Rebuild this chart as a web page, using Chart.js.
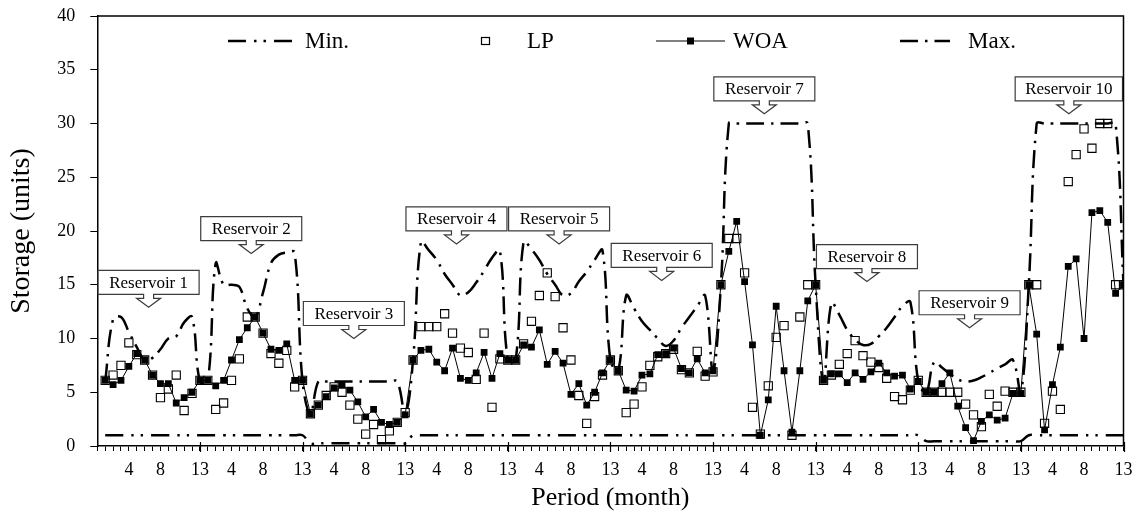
<!DOCTYPE html>
<html>
<head>
<meta charset="utf-8">
<title>Storage by period</title>
<script src="https://cdn.jsdelivr.net/npm/chart.js@4.4.1/dist/chart.umd.min.js"></script>
<style>
  html, body { margin: 0; padding: 0; background: #fff; }
  #wrap { width: 1137px; height: 515px; }
</style>
</head>
<body>
<div id="wrap"><canvas id="chart" width="1137" height="515"></canvas></div>
<script>
// one row per reservoir, 13 monthly periods each
const reservoirNames = ['Reservoir 1', 'Reservoir 2', 'Reservoir 3', 'Reservoir 4', 'Reservoir 5',
  'Reservoir 6', 'Reservoir 7', 'Reservoir 8', 'Reservoir 9', 'Reservoir 10'];
const periodsPerReservoir = 13;
const labelledPeriods = [4, 8, 13];

const woaStorage = [
  [6.1, 5.7, 6.1, 7.4, 8.6, 8.0, 6.6, 5.8, 5.8, 4.0, 4.5, 5.0, 6.1],
  [6.1, 5.6, 6.1, 8.0, 9.9, 11.0, 12.0, 10.5, 9.0, 8.9, 9.5, 6.1, 6.1],
  [3.0, 3.8, 4.6, 5.4, 5.7, 5.2, 4.1, 2.7, 3.4, 2.2, 2.0, 2.2, 2.9],
  [8.0, 8.9, 9.0, 7.8, 7.0, 9.1, 6.3, 6.1, 6.8, 8.7, 6.3, 8.6, 8.0],
  [8.0, 9.4, 9.2, 10.8, 7.6, 8.8, 7.7, 4.8, 5.8, 3.8, 5.0, 6.8, 8.0],
  [7.0, 5.2, 5.1, 6.6, 6.7, 8.5, 8.6, 9.1, 7.2, 6.8, 8.1, 6.8, 7.0],
  [15.0, 18.1, 20.9, 15.3, 9.4, 1.0, 4.3, 13.0, 7.0, 1.3, 7.0, 13.5, 15.0],
  [6.1, 6.7, 6.7, 5.9, 6.8, 6.2, 6.9, 7.7, 6.8, 6.5, 6.6, 5.3, 6.0],
  [5.0, 5.0, 5.8, 6.8, 3.7, 1.7, 0.5, 2.3, 2.9, 2.4, 2.6, 4.9, 4.9],
  [15.0, 10.4, 1.5, 5.7, 9.2, 16.7, 17.4, 10.0, 21.7, 21.9, 20.8, 14.2, 15.0]
];

const lpStorage = [
  [6.1, 6.6, 7.5, 9.6, 8.5, 8.0, 6.6, 4.5, 5.3, 6.6, 3.3, 4.9, 6.1],
  [6.1, 3.4, 4.0, 6.1, 8.1, 12.0, 12.0, 10.5, 8.6, 7.7, 8.9, 5.5, 6.1],
  [3.0, 3.8, 4.7, 5.5, 5.0, 3.8, 2.5, 1.1, 2.0, 0.6, 1.4, 2.2, 3.1],
  [8.0, 11.1, 11.1, 11.1, 12.3, 10.5, 9.1, 8.7, 6.2, 10.5, 3.6, 8.1, 8.0],
  [8.0, 9.5, 11.6, 14.0, 16.1, 13.9, 11.0, 8.0, 4.7, 2.1, 4.6, 6.6, 8.0],
  [7.0, 3.1, 3.9, 5.5, 7.5, 8.3, 8.6, 9.0, 7.1, 6.8, 8.8, 6.5, 6.9],
  [15.0, 19.3, 19.3, 16.1, 3.6, 1.1, 5.6, 10.1, 11.2, 1.0, 12.0, 15.0, 15.0],
  [6.1, 6.6, 7.6, 8.6, 9.8, 8.4, 7.8, 7.3, 6.3, 4.6, 4.3, 5.2, 6.1],
  [5.0, 5.0, 5.0, 5.0, 5.0, 3.9, 2.9, 1.8, 4.8, 3.7, 5.1, 5.0, 5.0],
  [15.0, 15.0, 2.1, 5.1, 3.4, 24.6, 27.1, 29.5, 27.7, 30.0, 30.0, 15.0, 15.0]
];

const maxStorage = [
  [6, 11.8, 12.0, 10.6, 9.2, 8.0, 8.2, 9.0, 10.0, 10.2, 11.5, 12.0, 6],
  [6, 17.0, 15.0, 15.0, 14.8, 12.8, 12.0, 14.3, 17.0, 17.8, 18.0, 18.0, 6],
  [3, 6, 6, 6, 6, 6, 6, 6, 6, 6, 6, 6, 3],
  [8, 19.0, 18.2, 17.3, 16.0, 15.0, 14.0, 14.3, 15.2, 16.3, 17.5, 18.2, 8],
  [8, 19.0, 18.3, 17.3, 16.0, 15.0, 14.0, 14.2, 15.3, 16.2, 17.3, 18.2, 8],
  [7, 14.0, 12.8, 11.6, 10.8, 10.0, 9.3, 9.8, 11.0, 12.0, 13.0, 14.0, 7],
  [15, 30, 30, 30, 30, 30, 30, 30, 30, 30, 30, 30, 15],
  [6, 13.3, 12.2, 10.8, 9.9, 9.4, 9.5, 10.2, 11.0, 12.0, 13.0, 13.4, 6],
  [5, 7.8, 7.3, 6.7, 6.2, 6.0, 6.1, 6.4, 6.8, 7.2, 7.6, 8.0, 5],
  [15, 30, 30, 30, 30, 30, 30, 30, 30, 30, 30, 30, 15]
];

const minStorage = [
  [1, 1, 1, 1, 1, 1, 1, 1, 1, 1, 1, 1, 1],
  [1, 1, 1, 1, 1, 1, 1, 1, 1, 1, 1, 1, 1],
  [0.25, 0.25, 0.25, 0.25, 0.25, 0.25, 0.25, 0.25, 0.25, 0.25, 0.25, 0.25, 0.25],
  [1, 1, 1, 1, 1, 1, 1, 1, 1, 1, 1, 1, 1],
  [1, 1, 1, 1, 1, 1, 1, 1, 1, 1, 1, 1, 1],
  [1, 1, 1, 1, 1, 1, 1, 1, 1, 1, 1, 1, 1],
  [1, 1, 1, 1, 1, 1, 1, 1, 1, 1, 1, 1, 1],
  [1, 1, 1, 1, 1, 1, 1, 1, 1, 1, 1, 1, 1],
  [0.45, 0.45, 0.45, 0.45, 0.45, 0.45, 0.45, 0.45, 0.45, 0.45, 0.45, 0.45, 0.45],
  [1, 1, 1, 1, 1, 1, 1, 1, 1, 1, 1, 1, 1]
];

// level (storage units) each reservoir's label arrow points down to
const calloutTips = [12.9, 17.9, 10.0, 18.8, 18.8, 15.4, 30.9, 15.3, 11.0, 30.9];

const SERIF = '"Liberation Serif", "Times New Roman", serif';
const MIN_DASH = [18, 8, 2.5, 7, 2.5, 8];
const MAX_DASH = [18, 7, 2.5, 7];

// flatten reservoir rows into a continuous period axis 1..130
function toPoints(rows) {
  return rows.flat().map((v, i) => ({ x: i + 1, y: v }));
}

const frame = {
  id: 'frame',
  afterDraw(chart) {
    const { ctx, chartArea: a, scales: { x } } = chart;
    ctx.save();
    ctx.strokeStyle = '#000';
    ctx.lineWidth = 1.5;
    ctx.beginPath();
    ctx.moveTo(a.left, a.top);
    ctx.lineTo(a.right, a.top);
    ctx.lineTo(a.right, a.bottom);
    ctx.stroke();
    // longer ticks where one reservoir ends and the next begins
    ctx.lineWidth = 1.2;
    for (let r = 1; r <= reservoirNames.length; r++) {
      const px = Math.round(x.getPixelForValue(r * periodsPerReservoir)) + 0.5;
      ctx.beginPath();
      ctx.moveTo(px, a.bottom - 4);
      ctx.lineTo(px, a.bottom + 6);
      ctx.stroke();
    }
    ctx.restore();
  }
};

const legendBox = {
  id: 'legendBox',
  afterDraw(chart) {
    const { ctx } = chart;
    const ly = 41;
    ctx.save();
    ctx.strokeStyle = '#000';
    ctx.fillStyle = '#000';
    ctx.font = '23px ' + SERIF;
    ctx.textBaseline = 'middle';
    ctx.textAlign = 'left';

    // Min.
    ctx.lineWidth = 2.5;
    ctx.setLineDash(MIN_DASH);
    ctx.beginPath(); ctx.moveTo(228, ly); ctx.lineTo(297, ly); ctx.stroke();
    ctx.setLineDash([]);
    ctx.fillText('Min.', 305, ly + 1);

    // LP
    ctx.lineWidth = 1.2;
    ctx.strokeRect(481.5, ly - 3.5, 8, 7);
    ctx.fillText('LP', 527, ly + 1);

    // WOA
    ctx.lineWidth = 1;
    ctx.beginPath(); ctx.moveTo(656, ly); ctx.lineTo(725, ly); ctx.stroke();
    ctx.fillRect(687, ly - 3.5, 7, 7);
    ctx.fillText('WOA', 733, ly + 1);

    // Max.
    ctx.lineWidth = 2.5;
    ctx.setLineDash(MAX_DASH);
    ctx.beginPath(); ctx.moveTo(900, ly); ctx.lineTo(950, ly); ctx.stroke();
    ctx.setLineDash([]);
    ctx.fillText('Max.', 968, ly + 1);
    ctx.restore();
  }
};

const callouts = {
  id: 'callouts',
  afterDatasetsDraw(chart) {
    const { ctx, chartArea: a, scales: { x, y } } = chart;
    ctx.save();
    ctx.font = '17px ' + SERIF;
    reservoirNames.forEach((name, r) => {
      const mid = x.getPixelForValue(r * periodsPerReservoir + 6.5);
      const tipY = y.getPixelForValue(calloutTips[r]);
      const w = Math.max(101, ctx.measureText(name).width + 20);
      const left = Math.min(mid - w / 2, a.right - w - 1);
      const cx = left + w / 2;
      const bottom = tipY - 13;
      const top = bottom - 24;
      ctx.beginPath();
      ctx.moveTo(left, top);
      ctx.lineTo(left + w, top);
      ctx.lineTo(left + w, bottom);
      ctx.lineTo(cx + 5, bottom);
      ctx.lineTo(cx + 5, bottom + 4);
      ctx.lineTo(cx + 12, bottom + 4);
      ctx.lineTo(cx, tipY);
      ctx.lineTo(cx - 12, bottom + 4);
      ctx.lineTo(cx - 5, bottom + 4);
      ctx.lineTo(cx - 5, bottom);
      ctx.lineTo(left, bottom);
      ctx.closePath();
      ctx.fillStyle = '#fff';
      ctx.fill();
      ctx.strokeStyle = '#3c3c3c';
      ctx.lineWidth = 1.2;
      ctx.stroke();
      ctx.fillStyle = '#000';
      ctx.textAlign = 'center';
      ctx.textBaseline = 'middle';
      ctx.fillText(name, cx, (top + bottom) / 2 + 1);
    });
    ctx.restore();
  }
};

new Chart(document.getElementById('chart'), {
  type: 'line',
  data: {
    datasets: [
      {
        label: 'WOA', data: toPoints(woaStorage),
        borderColor: '#000', borderWidth: 1, tension: 0,
        pointStyle: 'rect', pointRadius: 4.8, pointBackgroundColor: '#000', pointBorderWidth: 0
      },
      {
        label: 'LP', data: toPoints(lpStorage), showLine: false,
        pointStyle: 'rect', pointRadius: 5.8, pointBackgroundColor: 'rgba(0,0,0,0)',
        pointBorderColor: '#000', pointBorderWidth: 1.1
      },
      {
        label: 'Max.', data: toPoints(maxStorage),
        borderColor: '#000', borderWidth: 2.5, borderDash: MAX_DASH, tension: 0.4, pointRadius: 0
      },
      {
        label: 'Min.', data: toPoints(minStorage),
        borderColor: '#000', borderWidth: 2.5, borderDash: MIN_DASH, tension: 0.4, pointRadius: 0
      }
    ]
  },
  options: {
    responsive: false,
    animation: false,
    devicePixelRatio: 1,
    layout: { padding: { left: 4, right: 13.5, top: 16, bottom: 1 } },
    plugins: { legend: { display: false }, tooltip: { enabled: false } },
    scales: {
      x: {
        type: 'linear', min: 0, max: 130,
        afterFit: s => { s.height = 68; s.paddingLeft = 0; s.paddingRight = 0; },
        border: { color: '#000', width: 1.5 },
        grid: { drawOnChartArea: false, drawTicks: true, tickLength: 5, color: '#000', lineWidth: 1 },
        ticks: {
          stepSize: 1, autoSkip: false, maxRotation: 0, padding: 8,
          color: '#000', font: { family: SERIF, size: 18 },
          callback: v => {
            if (v === 0) return '';
            const p = ((v - 1) % periodsPerReservoir) + 1;
            return labelledPeriods.includes(p) ? String(p) : '';
          }
        },
        title: { display: true, text: 'Period (month)', color: '#000', font: { family: SERIF, size: 26 }, padding: 0 }
      },
      y: {
        min: 0, max: 40,
        afterFit: s => { s.width = 93.3; s.paddingTop = 0; s.paddingBottom = 0; },
        border: { color: '#000', width: 1.5 },
        grid: { drawOnChartArea: false, drawTicks: true, tickLength: 7, color: '#000' },
        ticks: { stepSize: 5, padding: 15, color: '#000', font: { family: SERIF, size: 18 } },
        title: { display: true, text: 'Storage (units)', color: '#000', font: { family: SERIF, size: 28 }, padding: { top: 1 } }
      }
    }
  },
  plugins: [frame, legendBox, callouts]
});
</script>
</body>
</html>
